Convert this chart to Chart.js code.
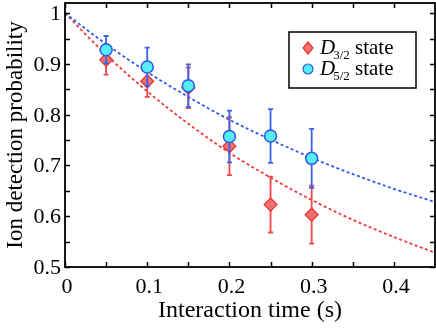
<!DOCTYPE html>
<html>
<head>
<meta charset="utf-8">
<script src="https://cdn.jsdelivr.net/npm/chart.js@4.4.1/dist/chart.umd.min.js"></script>
<style>
html, body { margin: 0; padding: 0; background: #fff; }
#wrap { width: 436px; height: 329px; position: relative; }
</style>
</head>
<body>
<div id="wrap"><canvas id="c"></canvas></div>
<script>
// measured points (interaction time in s)
const times = [0.05, 0.1, 0.15, 0.2, 0.25, 0.3];
const d32 = [0.908, 0.866, 0.853, 0.738, 0.623, 0.603];
const d32Err = [0.029, 0.031, 0.040, 0.057, 0.055, 0.057];
const d52 = [0.928, 0.894, 0.857, 0.757, 0.758, 0.714];
const d52Err = [0.027, 0.038, 0.042, 0.051, 0.053, 0.058];

// fitted curves
const fitTimes = [0, 0.05, 0.1, 0.15, 0.2, 0.25, 0.3, 0.35, 0.4, 0.45];
const fit32 = [1, 0.918, 0.846, 0.782, 0.725, 0.676, 0.632, 0.593, 0.559, 0.528];
const fit52 = [1, 0.939, 0.884, 0.835, 0.790, 0.751, 0.715, 0.683, 0.654, 0.628];

const xTicks = [0, 0.05, 0.1, 0.15, 0.2, 0.25, 0.3, 0.35, 0.4];
const xTickLabels = ['0', '', '0.1', '', '0.2', '', '0.3', '', '0.4'];
const yTicks = [0.5, 0.55, 0.6, 0.65, 0.7, 0.75, 0.8, 0.85, 0.9, 0.95, 1];
const yTickLabels = ['0.5', '', '0.6', '', '0.7', '', '0.8', '', '0.9', '', '1'];

const legendNames = [['D', '3/2', ' state'], ['D', '5/2', ' state']];

const RED = '#f03a3a';
const BLUE = '#2f5ae8';
const serif = "'Liberation Serif', 'DejaVu Serif', serif";

function pts(xs, ys) {
    return xs.map((x, i) => ({ x: x, y: ys[i] }));
}

// error bars, drawn just under each dataset's markers
const errorBars = {
    id: 'errorBars',
    beforeDatasetDraw(chart, args) {
        const ds = chart.data.datasets[args.index];
        if (!ds.errors) return;
        const ctx = chart.ctx;
        const xs = chart.scales.x, ys = chart.scales.y;
        ctx.save();
        ctx.strokeStyle = ds.barColor;
        ctx.lineWidth = 1.8;
        ds.data.forEach((p, i) => {
            const px = xs.getPixelForValue(p.x);
            const top = ys.getPixelForValue(p.y + ds.errors[i]);
            const bot = ys.getPixelForValue(p.y - ds.errors[i]);
            ctx.beginPath();
            ctx.moveTo(px, top); ctx.lineTo(px, bot);
            ctx.moveTo(px - 2.5, top); ctx.lineTo(px + 2.5, top);
            ctx.moveTo(px - 2.5, bot); ctx.lineTo(px + 2.5, bot);
            ctx.stroke();
        });
        ctx.restore();
    }
};

// box frame with inward ticks on all four sides, tick labels, legend
const frame = {
    id: 'frame',
    afterDraw(chart) {
        const ctx = chart.ctx;
        const a = chart.chartArea;
        const xs = chart.scales.x, ys = chart.scales.y;
        ctx.save();
        ctx.strokeStyle = '#000';
        ctx.lineWidth = 1.5;
        ctx.beginPath();
        xTicks.forEach(v => {
            const px = Math.round(xs.getPixelForValue(v)) + 0.5;
            ctx.moveTo(px, a.bottom); ctx.lineTo(px, a.bottom - 5);
            ctx.moveTo(px, a.top); ctx.lineTo(px, a.top + 5);
        });
        yTicks.forEach(v => {
            const py = Math.round(ys.getPixelForValue(v)) + 0.5;
            ctx.moveTo(a.left, py); ctx.lineTo(a.left + 5, py);
            ctx.moveTo(a.right, py); ctx.lineTo(a.right - 5, py);
        });
        ctx.stroke();
        ctx.lineWidth = 1.8;
        ctx.strokeRect(a.left, a.top, a.right - a.left, a.bottom - a.top);

        ctx.fillStyle = '#000';
        ctx.font = '22px ' + serif;
        ctx.textBaseline = 'alphabetic';
        ctx.textAlign = 'center';
        xTicks.forEach((v, i) => {
            ctx.fillText(xTickLabels[i], xs.getPixelForValue(v) + 2, a.bottom + 26);
        });
        ctx.textAlign = 'right';
        yTicks.forEach((v, i) => {
            ctx.fillText(yTickLabels[i], a.left - 4, ys.getPixelForValue(v) + 7);
        });
        ctx.restore();

        // legend
        ctx.save();
        const bx = 289, by = 32, bw = 127, bh = 56;
        ctx.fillStyle = '#fff';
        ctx.fillRect(bx, by, bw, bh);
        ctx.strokeStyle = '#000';
        ctx.lineWidth = 1.5;
        ctx.strokeRect(bx, by, bw, bh);
        const styles = [chart.data.datasets[2], chart.data.datasets[3]];
        legendNames.forEach((nm, i) => {
            const cy = by + 16 + i * 21;
            const ds = styles[i];
            ctx.fillStyle = ds.backgroundColor;
            ctx.strokeStyle = ds.borderColor;
            ctx.lineWidth = 1.2;
            ctx.beginPath();
            if (ds.pointStyle === 'rectRot') {
                ctx.moveTo(bx + 19, cy - 6); ctx.lineTo(bx + 24, cy);
                ctx.lineTo(bx + 19, cy + 6); ctx.lineTo(bx + 14, cy);
                ctx.closePath();
            } else {
                ctx.arc(bx + 19, cy, 5, 0, Math.PI * 2);
            }
            ctx.fill(); ctx.stroke();
            ctx.fillStyle = '#000';
            ctx.textBaseline = 'alphabetic';
            let tx = bx + 31;
            const base = cy + 6;
            ctx.font = 'italic 21px ' + serif;
            ctx.fillText(nm[0], tx, base);
            tx += ctx.measureText(nm[0]).width - 2;
            ctx.font = '13px ' + serif;
            ctx.fillText(nm[1], tx, base + 5);
            tx += ctx.measureText(nm[1]).width;
            ctx.font = '21px ' + serif;
            ctx.fillText(nm[2], tx, base);
        });
        ctx.restore();
    }
};

new Chart(document.getElementById('c'), {
    type: 'scatter',
    data: {
        datasets: [
            {
                type: 'line', data: pts(fitTimes, fit32), borderColor: RED,
                borderWidth: 1.8, borderDash: [3, 2.5], pointRadius: 0,
                cubicInterpolationMode: 'monotone', fill: false, order: 5
            },
            {
                type: 'line', data: pts(fitTimes, fit52), borderColor: BLUE,
                borderWidth: 1.8, borderDash: [3, 2.5], pointRadius: 0,
                cubicInterpolationMode: 'monotone', fill: false, order: 4
            },
            {
                data: pts(times, d32), errors: d32Err, barColor: '#f04848',
                pointStyle: 'rectRot', pointRadius: 6.5, backgroundColor: '#f07070',
                borderColor: '#e83030', borderWidth: 1.2, order: 3
            },
            {
                data: pts(times, d52), errors: d52Err, barColor: '#3a62e8',
                pointStyle: 'circle', pointRadius: 6, backgroundColor: '#55eef5',
                borderColor: '#2f58e6', borderWidth: 1.5, order: 1
            }
        ]
    },
    options: {
        responsive: true,
        maintainAspectRatio: false,
        animation: false,
        layout: { autoPadding: false, padding: { top: 3, right: 1, left: 0, bottom: 0 } },
        plugins: { legend: { display: false }, tooltip: { enabled: false } },
        scales: {
            x: {
                type: 'linear', min: 0, max: 0.45,
                afterBuildTicks: s => { s.ticks = xTicks.map(v => ({ value: v })); },
                afterFit: s => { s.height = 62; },
                grid: { display: false }, border: { display: false },
                ticks: { display: false },
                title: {
                    display: true, text: 'Interaction time (s)', color: '#000',
                    font: { family: serif, size: 24 }, padding: { top: 0, bottom: 4 }
                }
            },
            y: {
                type: 'linear', min: 0.5, max: 1.02,
                afterBuildTicks: s => { s.ticks = yTicks.map(v => ({ value: v })); },
                afterFit: s => { s.width = 65; },
                grid: { display: false }, border: { display: false },
                ticks: { display: false },
                title: {
                    display: true, text: 'Ion detection probability', color: '#000',
                    font: { family: serif, size: 23 }, padding: { top: 2, bottom: 0 }
                }
            }
        }
    },
    plugins: [errorBars, frame]
});
</script>
</body>
</html>
